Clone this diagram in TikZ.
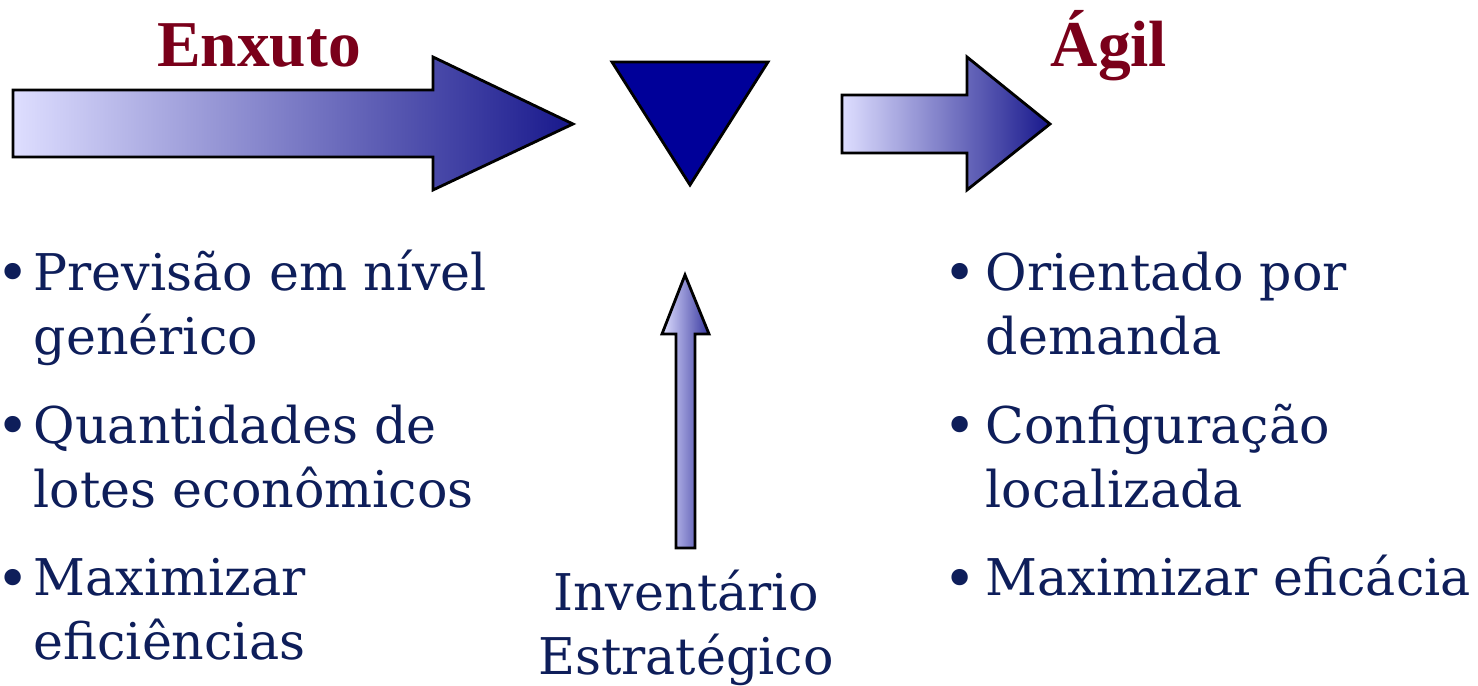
\documentclass[tikz,border=0pt]{standalone}
\usepackage{fontspec}
\setmainfont{DejaVu Serif}
\newfontfamily\headfont{Liberation Serif}

\definecolor{headred}{RGB}{122,0,26}
\definecolor{textblue}{RGB}{14,30,90}
\definecolor{paleblue}{RGB}{222,222,255}
\definecolor{deepblue}{RGB}{24,24,140}
\definecolor{midblue}{RGB}{56,56,160}
\definecolor{wedgeblue}{RGB}{0,0,153}

\tikzset{
  flow/.style={draw=black, line width=0.8pt, line join=miter, left color=paleblue, middle color=paleblue!74!deepblue, right color=deepblue},
  flowup/.style={draw=black, line width=0.8pt, line join=miter, left color=paleblue, right color=midblue},
  heading/.style={font=\headfont\bfseries\fontsize{18.6}{22}\selectfont, text=headred, anchor=base, inner sep=0pt},
  point/.style={font=\fontsize{14.4}{18.4}\selectfont, text=textblue, align=left, anchor=base west, inner sep=0pt},
  dot/.style={font=\fontsize{16}{18.4}\selectfont, text=textblue, inner sep=0pt},
}

\begin{document}
\begin{tikzpicture}[x=0.01cm, y=-0.01cm]
  \useasboundingbox (0,0) rectangle (1478,686);

  % arrows and wedge
  \draw[flow] (13,90) -- (433,90) -- (433,57) -- (573,124) -- (433,190) -- (433,157) -- (13,157) -- cycle;
  \draw[fill=wedgeblue, line width=0.8pt, line join=miter] (612,62) -- (768,62) -- (690,185) -- cycle;
  \draw[flow] (842,95) -- (967,95) -- (967,57) -- (1050,124) -- (967,190) -- (967,153) -- (842,153) -- cycle;
  \draw[flowup] (676,548) -- (676,334) -- (662,334) -- (685,275) -- (709,334) -- (695,334) -- (695,548) -- cycle;

  % headings
  \node[heading] (lean) at (259,67) {Enxuto};
  \node[heading] (agile) at (1109,67) {Ágil};

  % lean column (nodes sit on their last baseline)
  \node[dot] (b1) at (13,278) {•};
  \node[point] (forecast) at (33,355) {Previsão em nível\\genérico};
  \node[dot] (b2) at (13,431) {•};
  \node[point] (lots) at (33,508) {Quantidades de\\lotes econômicos};
  \node[dot] (b3) at (13,584) {•};
  \node[point] (efficiency) at (33,660) {Maximizar\\eficiências};

  % agile column
  \node[dot] (b4) at (960,278) {•};
  \node[point] (demand) at (985,355) {Orientado por\\demanda};
  \node[dot] (b5) at (960,431) {•};
  \node[point] (config) at (985,508) {Configuração\\localizada};
  \node[dot] (b6) at (960,584) {•};
  \node[point] (efficacy) at (985,596) {Maximizar eficácia};

  \node[point, align=center, anchor=base] (stock) at (686,675) {Inventário\\Estratégico};
\end{tikzpicture}
\end{document}
